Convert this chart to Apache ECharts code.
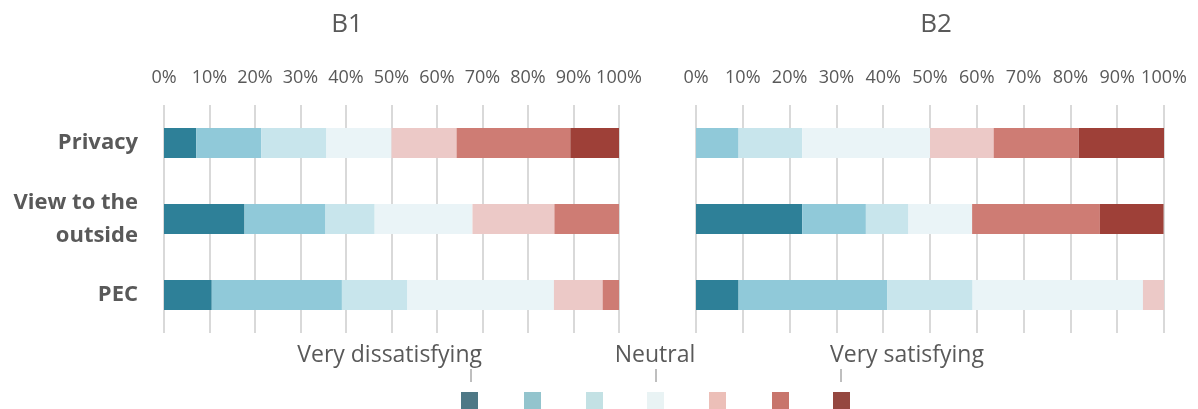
<!DOCTYPE html>
<html>
<head>
<meta charset="utf-8">
<script src="https://cdn.jsdelivr.net/npm/echarts@6/dist/echarts.min.js"></script>
<style>
  html, body { margin: 0; padding: 0; background: #fff; }
  #chart { width: 1198px; height: 409px; }
</style>
</head>
<body>
<div id="chart"></div>
<script>
// categories and tick labels
const categories = ['Privacy', 'View to the\noutside', 'PEC'];
const levels = ['Very dissatisfying', 'Dissatisfying', 'Slightly dissatisfying', 'Neutral',
  'Slightly satisfying', 'Satisfying', 'Very satisfying'];
const ticks = [0, 10, 20, 30, 40, 50, 60, 70, 80, 90, 100];

// B1 shares (%) per level, one value per category
const b1Level1 = [7.1, 17.7, 10.5];
const b1Level2 = [14.3, 17.8, 28.6];
const b1Level3 = [14.3, 10.8, 14.4];
const b1Level4 = [14.3, 21.5, 32.2];
const b1Level5 = [14.3, 18.0, 10.7];
const b1Level6 = [25.0, 14.2, 3.6];
const b1Level7 = [10.7, 0, 0];

// B2 shares (%) per level
const b2Level1 = [0, 22.7, 9.1];
const b2Level2 = [9.1, 13.6, 31.8];
const b2Level3 = [13.6, 9.1, 18.2];
const b2Level4 = [27.3, 13.6, 36.4];
const b2Level5 = [13.6, 0, 4.5];
const b2Level6 = [18.2, 27.3, 0];
const b2Level7 = [18.2, 13.6, 0];

const barColors = ['#2e8098', '#90c9d9', '#c8e5ec', '#eaf4f7', '#ecc9c7', '#ce7c74', '#9e4038'];
const swatchColors = ['#4e7886', '#93c4cd', '#c3e1e4', '#e9f3f4', '#ecbfb8', '#c8756c', '#954740'];

const b1 = [b1Level1, b1Level2, b1Level3, b1Level4, b1Level5, b1Level6, b1Level7];
const b2 = [b2Level1, b2Level2, b2Level3, b2Level4, b2Level5, b2Level6, b2Level7];

const txt = '#595959';
const font = '"Open Sans", "Noto Sans", sans-serif';

function xAxis(gridIndex) {
  return {
    type: 'value', gridIndex: gridIndex, position: 'top',
    min: ticks[0], max: ticks[ticks.length - 1], interval: 10,
    axisLine: { show: false }, axisTick: { show: false },
    axisLabel: { formatter: '{value}%', color: txt, fontSize: 18, fontFamily: font, margin: 18 },
    splitLine: { show: true, lineStyle: { color: '#d9d9d9', width: 2 } }
  };
}

function yAxis(gridIndex, showLabels) {
  return {
    type: 'category', gridIndex: gridIndex, inverse: true, data: categories,
    axisLine: { show: false }, axisTick: { show: false },
    axisLabel: {
      show: showLabels, color: txt, fontSize: 22, fontWeight: 'bold', fontFamily: font,
      lineHeight: 33, margin: 26, align: 'right'
    }
  };
}

const series = [];
[b1, b2].forEach((group, g) => {
  group.forEach((vals, i) => {
    series.push({
      name: levels[i], type: 'bar', stack: 'b' + g,
      xAxisIndex: g, yAxisIndex: g, barWidth: 30,
      itemStyle: { color: barColors[i] },
      data: vals
    });
  });
});

// legend drawn as a colour scale with three anchor labels
const swatchX = [461, 524, 586, 647, 709, 772, 833];
const graphic = [
  { type: 'text', x: 347, y: 25, style: { text: 'B1', fontSize: 26, fontFamily: font, fill: txt, textAlign: 'center', textVerticalAlign: 'middle' } },
  { type: 'text', x: 936, y: 25, style: { text: 'B2', fontSize: 26, fontFamily: font, fill: txt, textAlign: 'center', textVerticalAlign: 'middle' } },
  { type: 'text', x: 482, y: 355, style: { text: 'Very dissatisfying', fontSize: 23, fontFamily: font, fill: txt, textAlign: 'right', textVerticalAlign: 'middle' } },
  { type: 'text', x: 655, y: 355, style: { text: 'Neutral', fontSize: 23, fontFamily: font, fill: txt, textAlign: 'center', textVerticalAlign: 'middle' } },
  { type: 'text', x: 830, y: 355, style: { text: 'Very satisfying', fontSize: 23, fontFamily: font, fill: txt, textAlign: 'left', textVerticalAlign: 'middle' } }
];
[471, 656, 841].forEach(x => {
  graphic.push({ type: 'line', shape: { x1: x, y1: 369, x2: x, y2: 382 }, style: { stroke: '#7f7f7f', lineWidth: 1 } });
});
swatchX.forEach((x, i) => {
  graphic.push({ type: 'rect', shape: { x: x, y: 392, width: 17, height: 17 }, style: { fill: swatchColors[i] } });
});

const chart = echarts.init(document.getElementById('chart'));
chart.setOption({
  animation: false,
  backgroundColor: '#fff',
  grid: [
    { left: 164, right: 579, top: 105, height: 228 },
    { left: 696, right: 34, top: 105, height: 228 }
  ],
  xAxis: [xAxis(0), xAxis(1)],
  yAxis: [yAxis(0, true), yAxis(1, false)],
  series: series,
  graphic: graphic
});
</script>
</body>
</html>
